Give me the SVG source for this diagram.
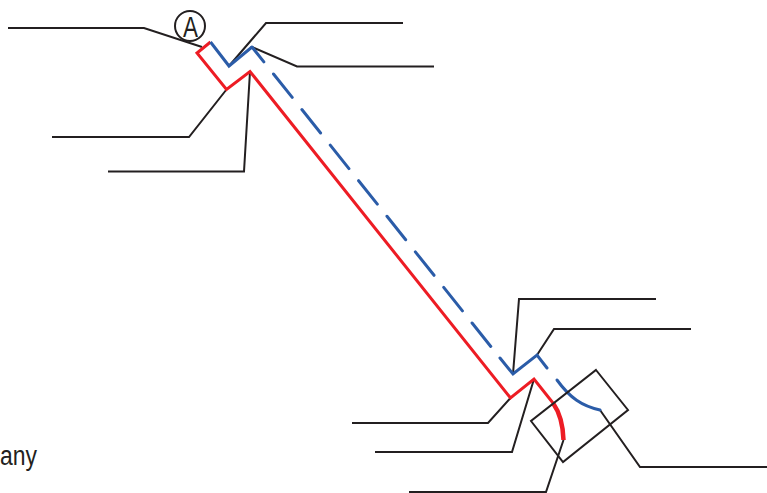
<svg xmlns="http://www.w3.org/2000/svg" width="767" height="493" viewBox="0 0 767 493">
<style>
.l{fill:none;stroke:#231f20;stroke-width:2}
.r{fill:none;stroke:#ed1c24;stroke-width:3}
.b{fill:none;stroke:#2b5ca8;stroke-width:3}
text{font-family:"Liberation Sans",Arial,sans-serif;fill:#231f20}
</style>
<g id="connectors">
<path class="l" d="M8 28H144L202 47"/>
<path class="l" d="M229 66L266 23H403"/>
<path class="l" d="M252 47L297 66.500H434"/>
<path class="l" d="M226.500 89.500L189 137H52"/>
<path class="l" d="M250 71.500L244 171.500H108"/>
<path class="l" d="M513 374L519 299H656"/>
<path class="l" d="M537 355L554 329H691"/>
<path class="l" d="M510.500 398L488 423H352"/>
<path class="l" d="M534 379L512 452H375"/>
<path class="l" d="M563.500 440L546 492H409"/>
<path class="l" d="M600 410L640 467H767"/>
</g>
<g id="profile-red">
<path class="r" d="M210.500 42L197 53L226.500 89.500L250 71.500L510.500 398L534 379L553 403"/>
<path fill="none" stroke="#ed1c24" stroke-width="4.500" d="M553 403C560 413 563 424 563.500 440"/>
</g>
<g id="profile-blue">
<path class="b" d="M210.500 42L229 66L252 47"/>
<path class="b" d="M252 47L500 358" stroke-linecap="round" stroke-dasharray="30 15.500" stroke-dashoffset="11"/>
<path class="b" d="M500 358L513 374L537 355L547 368" stroke-linecap="round"/>
<path class="b" d="M557 380C570 398 582 406 600 410" stroke-linecap="round"/>
</g>
<g id="detail-box"><path class="l" d="M596 370L628 410L563 462L531 421Z"/></g>
<g id="marker-a">
<circle class="l" cx="190" cy="26" r="15"/>
<text x="190.500" y="37" font-size="29" text-anchor="middle" textLength="15" lengthAdjust="spacingAndGlyphs">A</text>
</g>
<g id="label"><text x="0" y="465" font-size="27" textLength="37" lengthAdjust="spacingAndGlyphs">any</text></g>
</svg>
